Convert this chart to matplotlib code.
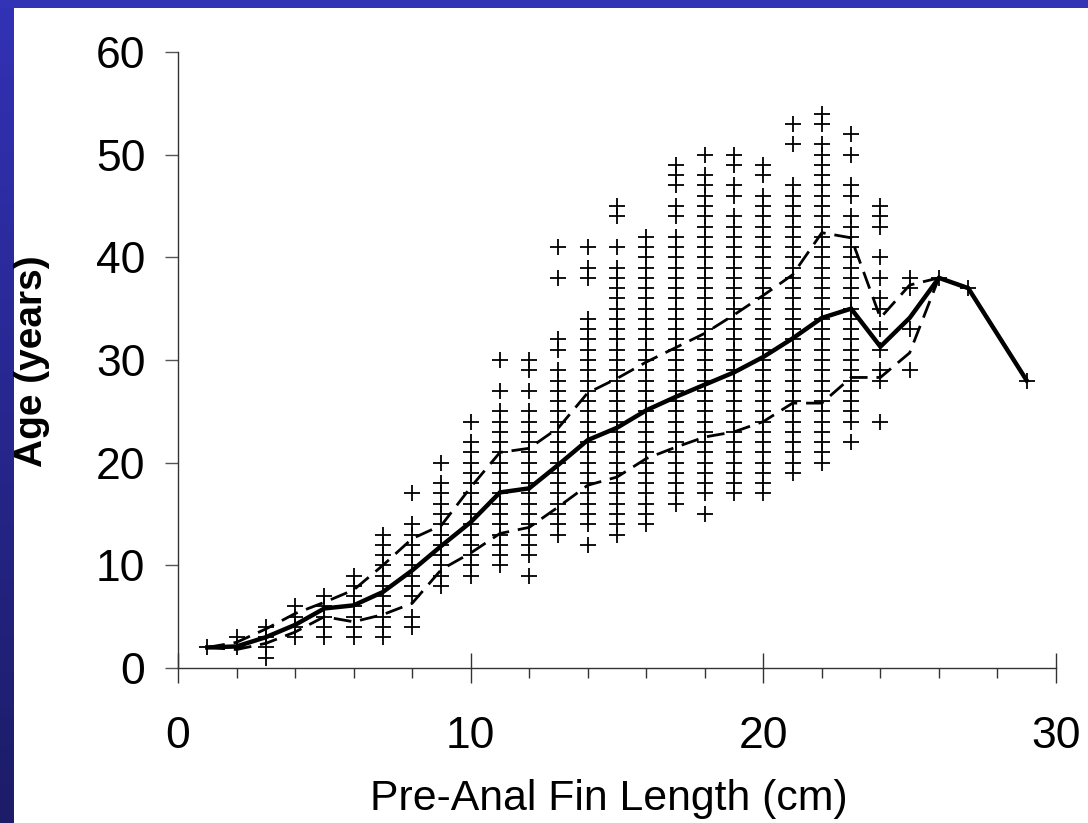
import numpy as np
import matplotlib
matplotlib.use('Agg')
import matplotlib.pyplot as plt
from matplotlib.patches import Rectangle
from matplotlib.ticker import MultipleLocator

plt.rcParams['font.family'] = ['Liberation Sans', 'DejaVu Sans']

# pre-anal fin length (cm) of each column of observations
lengths = [1, 2, 3, 4, 5, 6, 7, 8, 9, 10, 11, 12, 13, 14, 15, 16, 17, 18, 19,
           20, 21, 22, 23, 24, 25, 26, 27, 29]

# ages (years) observed at each length, same order as lengths
ages = [
    [2],
    [2, 3],
    [1, 2, 3, 4],
    [3, 4, 5, 6],
    [3, 4, 5, 6, 7],
    [3, 4, 5, 6, 7, 8, 9],
    [3, 4, 5, 6, 7, 8, 9, 10, 11, 12, 13],
    [4, 5, 7, 8, 9, 10, 11, 12, 13, 14, 17],
    [8, 9, 10, 11, 12, 13, 14, 15, 16, 17, 18, 20],
    [9, 10, 11, 12, 13, 14, 15, 16, 17, 18, 19, 20, 21, 22, 24],
    [10, 11, 12, 13, 14, 15, 16, 17, 18, 19, 20, 21, 22, 23, 24, 25, 27, 30],
    [9, 11, 12, 13, 14, 15, 16, 17, 18, 19, 20, 21, 22, 23, 24, 25, 27, 29, 30],
    [13, 14, 15, 16, 17, 18, 19, 20, 21, 22, 23, 24, 25, 26, 27, 28, 29, 31, 32,
     38, 41],
    [12, 14, 15, 16, 17, 18, 19, 20, 21, 22, 23, 24, 25, 26, 27, 28, 29, 30, 31,
     32, 33, 34, 38, 39, 41],
    [13, 14, 15, 16, 17, 18, 19, 20, 21, 22, 23, 24, 25, 26, 27, 28, 29, 30, 31,
     32, 33, 34, 35, 36, 37, 38, 39, 41, 44, 45],
    [14, 15, 16, 17, 18, 19, 20, 21, 22, 23, 24, 25, 26, 27, 28, 29, 30, 31, 32,
     33, 34, 35, 36, 37, 38, 39, 40, 41, 42],
    [16, 17, 18, 19, 20, 21, 22, 23, 24, 25, 26, 27, 28, 29, 30, 31, 32, 33, 34,
     35, 36, 37, 38, 39, 40, 41, 42, 44, 45, 47, 48, 49],
    [15, 17, 18, 19, 20, 21, 22, 23, 24, 25, 26, 27, 28, 29, 30, 31, 32, 33, 34,
     35, 36, 37, 38, 39, 40, 41, 42, 43, 44, 45, 46, 47, 48, 50],
    [17, 18, 19, 20, 21, 22, 23, 24, 25, 26, 27, 28, 29, 30, 31, 32, 33, 34, 35,
     36, 37, 38, 39, 40, 41, 42, 43, 44, 46, 47, 49, 50],
    [17, 18, 19, 20, 21, 22, 23, 24, 25, 26, 27, 28, 29, 30, 31, 32, 33, 34, 35,
     36, 37, 38, 39, 40, 41, 42, 43, 44, 45, 46, 48, 49],
    [19, 20, 21, 22, 23, 24, 25, 26, 27, 28, 29, 30, 31, 32, 33, 34, 35, 36, 37,
     38, 39, 40, 41, 42, 43, 44, 45, 46, 47, 51, 53],
    [20, 21, 22, 23, 24, 25, 26, 27, 28, 29, 30, 31, 32, 33, 34, 35, 36, 37, 38,
     39, 40, 41, 42, 43, 44, 45, 46, 47, 48, 49, 50, 51, 53, 54],
    [22, 24, 25, 26, 27, 28, 29, 30, 31, 32, 33, 34, 35, 36, 37, 38, 39, 40, 41,
     42, 43, 44, 46, 47, 50, 52],
    [24, 28, 29, 31, 33, 35, 36, 38, 40, 43, 44, 45],
    [29, 33, 37, 38],
    [38],
    [37],
    [28],
]

# mean age and the two dashed envelope lines at each length
mean_age = [2.0, 2.1, 3.0, 4.2, 5.8, 6.1, 7.4, 9.5, 11.9, 14.2, 17.1, 17.5, 19.8,
            22.2, 23.4, 25.1, 26.4, 27.6, 28.8, 30.3, 32.1, 34.1, 35.0, 31.3,
            34.1, 38.0, 37.0, 28.0]
upper_age = [2.0, 2.5, 3.8, 5.3, 6.4, 7.6, 10.0, 12.6, 13.9, 17.6, 21.0, 21.4,
             23.4, 26.8, 28.2, 29.8, 31.2, 32.6, 34.4, 36.3, 38.3, 42.4, 41.9,
             34.1, 37.3, 38.0, 37.0, 28.0]
lower_age = [2.0, 1.8, 2.4, 3.5, 5.0, 4.5, 5.2, 6.3, 9.6, 11.2, 13.1, 13.7,
             15.7, 17.8, 18.6, 20.4, 21.5, 22.5, 23.0, 24.0, 25.8, 25.8, 28.3,
             28.3, 30.7, 38.0, 37.0, 28.0]

fig = plt.figure(figsize=(10.88, 8.23), dpi=100)
fig.patch.set_facecolor('white')

# blue slide frame: gradient strip on the left, flat bar on top
bar = fig.add_axes([0, 0, 14 / 1088, 1])
grad = np.linspace(0, 1, 256).reshape(-1, 1, 1)
top_c = np.array([50, 50, 182]) / 255
bot_c = np.array([28, 28, 104]) / 255
bar.imshow(top_c * (1 - grad) + bot_c * grad, aspect='auto')
bar.axis('off')
fig.patches.append(Rectangle((0, 1 - 8 / 823), 1, 8 / 823, transform=fig.transFigure,
                             facecolor='#3333b5', edgecolor='none', zorder=5))

ax = fig.add_axes([178 / 1088, 155 / 823, 878 / 1088, 616 / 823])

for x, ys in zip(lengths, ages):
    ax.plot([x] * len(ys), ys, linestyle='none', marker='+', color='black',
            markersize=11, markeredgewidth=1.3, zorder=2, clip_on=False)

dash = (0, (6.4, 3.2))
ax.plot(lengths, upper_age, color='black', lw=2.0, linestyle=dash, zorder=3)
ax.plot(lengths, lower_age, color='black', lw=2.0, linestyle=dash, zorder=3)
ax.plot(lengths, mean_age, color='black', lw=3.2, zorder=4, solid_joinstyle='miter')

ax.set_xlim(0, 30)
ax.set_ylim(0, 60)
ax.spines['top'].set_visible(False)
ax.spines['right'].set_visible(False)
for s in ['left', 'bottom']:
    ax.spines[s].set_color('#333333')
    ax.spines[s].set_linewidth(1.0)

ax.xaxis.set_major_locator(MultipleLocator(10))
ax.xaxis.set_minor_locator(MultipleLocator(2))
ax.yaxis.set_major_locator(MultipleLocator(10))
ax.tick_params(axis='x', which='major', direction='inout', length=21, width=1.0,
               color='#333333', labelsize=32, pad=24)
ax.tick_params(axis='x', which='minor', direction='out', length=7, width=1.0,
               color='#333333')
ax.tick_params(axis='y', which='major', direction='out', length=9.5, width=1.0,
               color='#555555', labelsize=32, pad=14)

fig.text(609 / 1088, 1 - 810 / 823, 'Pre-Anal Fin Length (cm)', fontsize=30.8,
         ha='center', va='baseline')
fig.text(32 / 1088, 1 - 361 / 823, 'Age (years)', fontsize=28, fontweight='bold',
         rotation=90, ha='center', va='center')

fig.savefig('out.png', dpi=100)
